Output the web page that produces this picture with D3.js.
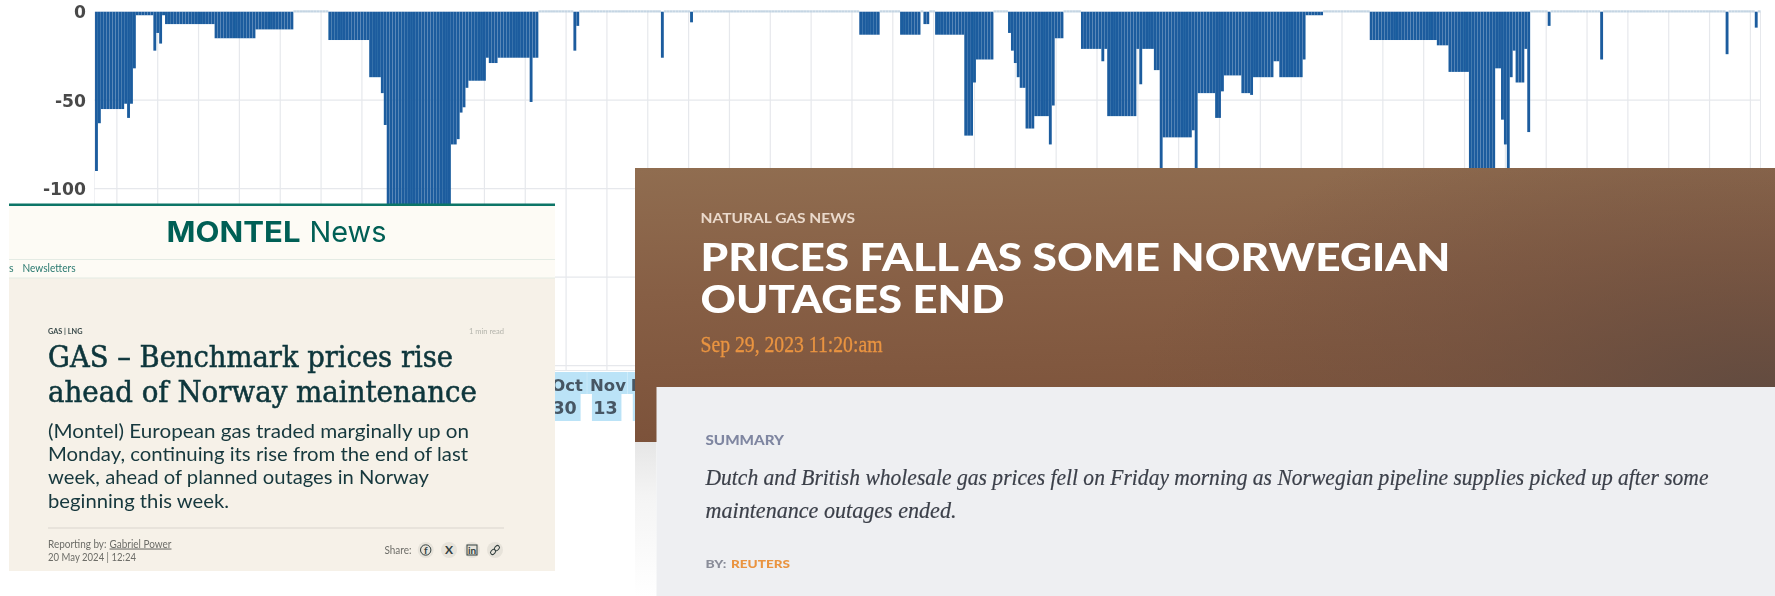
<!DOCTYPE html>
<html>
<head>
<meta charset="utf-8">
<title>Gas outages</title>
<script src="https://cdn.jsdelivr.net/npm/d3@7/dist/d3.min.js"></script>
<style>
html,body{margin:0;padding:0;background:#fff;overflow:hidden}
svg{display:block}
</style>
</head>
<body>
<div id="chart"></div>
<script>
// Daily outage values (one row per visible step).
// Days that reach under the overlaid articles are estimates: only the visible part can be read.
const outageValues = [
  -90, -63,
  -55,-55,-55,-55,-55,-55,-55,-55,
  -52, -60, -52, -32,
  -2,-2,-2,-2,-2,-2,
  -22, -12, -18, -2,
  -7,-7,-7,-7,-7,-7,-7,-7,-7,-7,-7,-7,-7,-7,-7,-7,-7,
  -15,-15,-15,-15,-15,-15,-15,-15,-15,-15,-15,-15,-15,-15,
  -10,-10,-10,-10,-10,-10,-10,-10,-10,-10,-10,-10,-10,
  0,0,0,0,0,0,0,0,0,0,0,0,
  -16,-16,-16,-16,-16,-16,-16,-16,-16,-16,-16,-16,-16,-16,
  -37,-37,-37,-37,
  -46, -64,
  -125,-125,-125,-125,-125,-125,-125,-125,-125,-125,-125,-125,-125,-125,-125,-125,-125,-125,-125,-125,-125,-125,
  -75,-75, -72, -57, -54, -43,
  -39,-39,-39,-39,-39,-39,
  -26, -29,-29,-29,
  -26,-26,-26,-26,-26,-26,-26,-26,-26,-26,-26,
  -51, -26,-26,
  0,0,0,0,0,0,0,0,0,0,0,0,
  -22, -8,
  0,0,0,0,0,0,0,0,0,0,0,0,0,0,0,0,0,0,0,0,0,0,0,0,0,0,0,0,
  -26,
  0,0,0,0,0,0,0,0,0,
  -6,
  0,0,0,0,0,0,0,0,0,0,0,0,0,0,0,0,0,0,0,0,
  0,0,0,0,0,0,0,0,0,0,0,0,0,0,0,0,0,0,0,0,
  0,0,0,0,0,0,0,0,0,0,0,0,0,0,0,0,0,
  -13,-13,-13,-13,-13,-13,-13,
  0,0,0,0,0,0,0,
  -13,-13,-13,-13,-13,-13,-13,
  0,
  -7,-7,
  0,0,
  -13,-13,-13,-13,-13,-13,-13,-13,-13,-13,
  -70,-70,-70,
  -40,
  -27,-27,-27,-27,-27,-27,
  0,0,0,0,0,
  -12, -22, -29, -37, -43,-43,
  -66,-66,-66,
  -59,-59,-59,-59,-59,
  -75, -53,
  -15,-15,-15,
  0,0,0,0,0,0,
  -21,-21,-21,-21,-21,-21,-21,
  -28, -21,
  -59,-59,-59,-59,-59,-59,-59,-59,-59,-59,
  -21, -41, -21,-21,-21,-21,
  -33,-33,
  -100,
  -71,-71,-71,-71,-71,-71,-71,-71,-71,-71,
  -67,
  -100,
  -46,-46,-46,-46,-46,-46,
  -60,-60,
  -45,
  -36,-36,-36,-36,-36,-36,
  -46,-46,-46,
  -47,
  -37,-37,-37,-37,-37,-37,-37,
  -28,-28,
  -37,-37,-37,-37,-37,-37,-37,-37,
  -27,
  -2,-2,-2,-2,-2,-2,
  0,0,0,0,0,0,0,0,0,0,0,0,0,0,0,0,
  -16,-16,-16,-16,-16,-16,-16,-16,-16,-16,-16,-16,-16,-16,-16,-16,-16,-16,-16,-16,-16,-16,-16,
  -19,-19,-19,-19,
  -34,-34,-34,-34,-34,-34,-34,
  -110,-110,-110,-110,-110,-110,-110,-110,-110,
  -32,-32,
  -61, -75, -100, -37, -22,
  -40,-40,-40,
  -21, -68,
  0,0,0,0,0,0,
  -8,
  0,0,0,0,0,0,0,0,0,0,0,0,0,0,0,0,0,
  -27,
  0,0,0,0,0,0,0,0,0,0,0,0,0,0,0,0,0,0,0,0,0,
  0,0,0,0,0,0,0,0,0,0,0,0,0,0,0,0,0,0,0,0,0,
  -24,
  0,0,0,0,0,0,0,0,0,
  -9,
  0
];
const firstDay = "2023-05-22";
const yTicks = [0, -50, -100];
const yGridLines = [-50, -100, -150, -200];
const tickMonths = ["Oct", "Nov", "Nov"];
const tickDays = ["30", "13", "27"];

const W = 1775, H = 596;
const svg = d3.select("#chart").append("svg").attr("width", W).attr("height", H)
  .attr("viewBox", `0 0 ${W} ${H}`);
const defs = svg.append("defs");

// soft photographed look of the screenshot
defs.append("filter").attr("id", "soft").attr("x", "0").attr("y", "0").attr("width", "100%").attr("height", "100%")
  .append("feGaussianBlur").attr("stdDeviation", 0.55);
defs.append("filter").attr("id", "softText").attr("x", "0").attr("y", "0").attr("width", "100%").attr("height", "100%")
  .append("feGaussianBlur").attr("stdDeviation", 0.3);

// ---------- chart ----------
const parseDay = d3.utcParse("%Y-%m-%d");
const start = parseDay(firstDay);
const days = outageValues.map((_, i) => d3.utcDay.offset(start, i));
const rows = days.map((d, i) => ({ day: d, value: outageValues[i] }));

const x = d3.scaleBand().domain(days).range([95, 95 + 2.917 * days.length]).paddingInner(0.02).paddingOuter(0.01);
const y = d3.scaleLinear().domain([0, -203]).range([11.7, 371]);

// one gridline every 14 days, on the same fortnight as the readable Oct 30 and Nov 13 labels
const oct30 = d3.utcDay.offset(start, 161);
const gridDays = days.filter(d => ((d3.utcDay.count(oct30, d) % 14) + 14) % 14 === 0);
const xMid = d => x(d) + x.bandwidth() / 2;

const chart = svg.append("g").attr("filter", "url(#soft)");

chart.append("g").attr("class", "x-grid").selectAll("line").data(gridDays).join("line")
  .attr("x1", xMid).attr("x2", xMid).attr("y1", y(0)).attr("y2", y(-203))
  .attr("stroke", "#e6e8ec").attr("stroke-width", 1.2);

chart.append("g").attr("class", "y-grid").selectAll("line").data(yGridLines).join("line")
  .attr("x1", 94).attr("x2", x.range()[1]).attr("y1", y).attr("y2", y)
  .attr("stroke", "#e6e8ec").attr("stroke-width", 1.2);

chart.append("line").attr("x1", 94).attr("x2", 94).attr("y1", y(0)).attr("y2", y(-203))
  .attr("stroke", "#e6e8ec").attr("stroke-width", 1.2);
chart.append("line").attr("x1", x.range()[1]).attr("x2", x.range()[1]).attr("y1", y(0)).attr("y2", y(-203))
  .attr("stroke", "#e6e8ec").attr("stroke-width", 1.2);
chart.append("line").attr("x1", 94).attr("x2", x.range()[1]).attr("y1", y(-203)).attr("y2", y(-203))
  .attr("stroke", "#e6e8ec").attr("stroke-width", 2);

chart.append("g").attr("class", "bars").selectAll("rect").data(rows).join("rect")
  .attr("x", d => x(d.day))
  .attr("width", x.bandwidth())
  .attr("y", d => d.value === 0 ? y(0) - 1.4 : y(0))
  .attr("height", d => d.value === 0 ? 2.2 : y(d.value) - y(0))
  .attr("fill", d => d.value === 0 ? "#c4d5e3" : "#1a5c9e");

const yAxis = d3.axisLeft(y).tickValues(yTicks).tickSize(0).tickPadding(0).tickFormat(d => String(d));
const yG = svg.append("g").attr("transform", "translate(86,0)").attr("filter", "url(#soft)").call(yAxis);
yG.select(".domain").remove();
yG.selectAll("text").attr("font-family", "DejaVu Sans").attr("font-weight", 700).attr("font-size", 17.2)
  .attr("fill", "#4a4a4a").attr("text-anchor", "end").attr("dy", "0.34em");

// tick labels, highlighted as if the text had been selected in the source page
const tickDates = tickDays.map((_, i) => d3.utcDay.offset(oct30, i * 14));
const tickData = tickDates.map((d, i) => ({ day: d, month: tickMonths[i], date: tickDays[i] }));
const tick = svg.append("g").attr("class", "x-ticks").attr("filter", "url(#soft)").selectAll("g").data(tickData).join("g")
  .attr("transform", d => `translate(${xMid(d.day)},0)`);
const HL = "#bbe3f7";
tick.append("rect").attr("x", -19.8).attr("width", 40.6).attr("y", 372).attr("height", 22).attr("fill", HL);
tick.append("rect").attr("x", -15).attr("width", 29.5).attr("y", 394).attr("height", 27).attr("fill", HL);
tick.append("text").text(d => d.month).attr("x", 1).attr("y", 391).attr("text-anchor", "middle")
  .attr("font-family", "DejaVu Sans").attr("font-weight", 700).attr("font-size", 16.5).attr("fill", "#465663");
tick.append("text").text(d => d.date).attr("x", -1.5).attr("y", 414).attr("text-anchor", "middle")
  .attr("font-family", "DejaVu Sans").attr("font-weight", 700).attr("font-size", 17.5).attr("fill", "#465663");

// ---------- helpers for the overlaid article screenshots ----------
function label(g, str, px, py, o) {
  const t = g.append("text").text(str).attr("x", px).attr("y", py)
    .attr("font-family", o.font).attr("font-size", o.size).attr("fill", o.fill)
    .attr("font-weight", o.weight || 400).attr("font-style", o.style || "normal");
  if (o.w) t.attr("textLength", o.w).attr("lengthAdjust", "spacingAndGlyphs");
  if (o.anchor) t.attr("text-anchor", o.anchor);
  if (o.deco) t.attr("text-decoration", o.deco);
  if (o.bold) t.attr("stroke", o.fill).attr("stroke-width", o.bold);
  return t;
}

// ---------- Montel card ----------
const mon = svg.append("g").attr("class", "montel");
mon.append("rect").attr("x", 9).attr("y", 204).attr("width", 546).attr("height", 367).attr("fill", "#f6f1e8");
mon.append("rect").attr("x", 9).attr("y", 204).attr("width", 546).attr("height", 74).attr("fill", "#fdfbf5");
mon.append("rect").attr("x", 9).attr("y", 203.5).attr("width", 546).attr("height", 2.5).attr("fill", "#0c7567");
mon.append("rect").attr("x", 9).attr("y", 259).attr("width", 546).attr("height", 1).attr("fill", "#e4ebe4");
mon.append("rect").attr("x", 9).attr("y", 277.5).attr("width", 546).attr("height", 1).attr("fill", "#e4ebe4");
const TEAL = "#005f55", INK = "#0b363b";
const monText = mon.append("g").attr("filter", "url(#softText)");
label(monText, "MONTEL", 166.5, 241.5, { font: "Inter", size: 28.5, weight: 700, fill: TEAL, w: 134 });
label(monText, "News", 309.5, 241.5, { font: "Inter", size: 29, weight: 400, fill: TEAL, w: 77 });
label(monText, "s", 9, 272, { font: "Lato", size: 10.5, fill: "#2b7a70" });
label(monText, "Newsletters", 22.5, 272, { font: "Lato", size: 10.5, fill: "#2b7a70", w: 53 });
label(monText, "GAS | LNG", 48, 333.5, { font: "Lato", size: 7.5, weight: 700, fill: "#3a4a4a", w: 34.5 });
label(monText, "1 min read", 469, 333.5, { font: "Lato", size: 7.5, fill: "#b4b4ac", w: 35 });
label(monText, "GAS – Benchmark prices rise", 48, 366.5, { font: "DejaVu Serif", size: 29, fill: INK, w: 405, bold: 0.55 });
label(monText, "ahead of Norway maintenance", 48, 402, { font: "DejaVu Serif", size: 29, fill: INK, w: 429, bold: 0.55 });
[["(Montel) European gas traded marginally up on", 421],
 ["Monday, continuing its rise from the end of last", 420],
 ["week, ahead of planned outages in Norway", 381],
 ["beginning this week.", 181]].forEach((d, i) =>
  label(monText, d[0], 48, 437.5 + i * 23.4, { font: "Lato", size: 20, fill: "#17383d", w: d[1] }));
mon.append("rect").attr("x", 48).attr("y", 527.5).attr("width", 456).attr("height", 1).attr("fill", "#d9d6cd");
label(monText, "Reporting by:", 48, 547.5, { font: "Lato", size: 10.5, fill: "#6d6d68", w: 58.5 });
label(monText, "Gabriel Power", 109.5, 547.5, { font: "Lato", size: 10.5, fill: "#6d6d68", w: 62, deco: "underline" });
label(monText, "20 May 2024 | 12:24", 48, 561, { font: "Lato", size: 10.5, fill: "#6d6d68", w: 88 });
label(monText, "Share:", 384.5, 553.5, { font: "Lato", size: 10.5, fill: "#6d6d68", w: 27 });
[[425.7, "f"], [449, "X"], [472, "in"], [495, ""]].forEach(d => {
  mon.append("circle").attr("cx", d[0]).attr("cy", 550).attr("r", 8).attr("fill", "#e7e3da");
  if (d[1]) label(mon, d[1], d[0], 554, { font: "Lato", size: d[1] === "X" ? 12 : 10, weight: 700, fill: "#33403f", anchor: "middle" });
});
mon.append("circle").attr("cx", 425.7).attr("cy", 550).attr("r", 5.2).attr("fill", "none").attr("stroke", "#33403f").attr("stroke-width", 1);
mon.append("rect").attr("x", 467).attr("y", 545).attr("width", 10).attr("height", 10).attr("fill", "none").attr("stroke", "#33403f").attr("stroke-width", 1);
mon.append("g").attr("transform", "translate(495,550) rotate(-45)").selectAll("rect").data([-5.5, 0]).join("rect")
  .attr("x", d => d).attr("y", -2).attr("width", 5.5).attr("height", 4).attr("rx", 2)
  .attr("fill", "none").attr("stroke", "#33403f").attr("stroke-width", 1);

// ---------- Reuters / natural gas card ----------
const base = defs.append("linearGradient").attr("id", "brownBase").attr("x1", 0).attr("y1", 0).attr("x2", 0.12).attr("y2", 1);
base.selectAll("stop").data([[0, "#906d50"], [0.45, "#875f45"], [1, "#7c523a"]]).join("stop")
  .attr("offset", d => d[0]).attr("stop-color", d => d[1]);
const dark = defs.append("radialGradient").attr("id", "brownDark").attr("gradientUnits", "userSpaceOnUse")
  .attr("cx", 1760).attr("cy", 400).attr("r", 620).attr("gradientTransform", "translate(0,200) scale(1,0.5)");
dark.selectAll("stop").data([[0, "#5f4a40", 0.95], [0.55, "#6d4f40", 0.45], [1, "#6d4f40", 0]]).join("stop")
  .attr("offset", d => d[0]).attr("stop-color", d => d[1]).attr("stop-opacity", d => d[2]);
const fade = defs.append("linearGradient").attr("id", "sideFade").attr("x1", 0).attr("y1", 0).attr("x2", 0).attr("y2", 1);
fade.selectAll("stop").data([[0, "#e6e6e6"], [0.35, "#f4f4f4"], [1, "#ffffff"]]).join("stop")
  .attr("offset", d => d[0]).attr("stop-color", d => d[1]);

const reu = svg.append("g").attr("class", "reuters");
reu.append("rect").attr("x", 635).attr("y", 168).attr("width", 1140).attr("height", 274).attr("fill", "url(#brownBase)");
reu.append("rect").attr("x", 635).attr("y", 168).attr("width", 1140).attr("height", 274).attr("fill", "url(#brownDark)");
reu.append("rect").attr("x", 635).attr("y", 442).attr("width", 21.5).attr("height", 154).attr("fill", "url(#sideFade)");
reu.append("rect").attr("x", 656.5).attr("y", 387).attr("width", 1118.5).attr("height", 209).attr("fill", "#eeeff2");
const reuText = reu.append("g").attr("filter", "url(#softText)");
label(reuText, "NATURAL GAS NEWS", 700.5, 222.5, { font: "Lato", size: 13, weight: 700, fill: "#ead9cb", w: 154.5 });
label(reuText, "PRICES FALL AS SOME NORWEGIAN", 700.5, 270.5, { font: "Lato", size: 38, weight: 900, fill: "#ffffff", w: 750 });
label(reuText, "OUTAGES END", 700.5, 313, { font: "Lato", size: 38, weight: 900, fill: "#ffffff", w: 304 });
label(reuText, "Sep 29, 2023 11:20:am", 700.5, 351.5, { font: "Liberation Serif", size: 23, fill: "#ea9440", w: 182, bold: 0.3 });
label(reuText, "SUMMARY", 705.5, 445, { font: "Lato", size: 13, weight: 900, fill: "#7f86a1", w: 78.5 });
label(reuText, "Dutch and British wholesale gas prices fell on Friday morning as Norwegian pipeline supplies picked up after some", 705.5, 484.5,
  { font: "Liberation Serif", size: 22.5, style: "italic", fill: "#3b3f49", w: 1003, bold: 0.2 });
label(reuText, "maintenance outages ended.", 705.5, 517.5, { font: "Liberation Serif", size: 22.5, style: "italic", fill: "#3b3f49", w: 251, bold: 0.2 });
label(reuText, "BY:", 705.5, 568, { font: "Lato", size: 12, weight: 900, fill: "#8a8d99", w: 21 });
label(reuText, "REUTERS", 731, 568, { font: "Lato", size: 12, weight: 900, fill: "#ea9440", w: 59 });
</script>
</body>
</html>
